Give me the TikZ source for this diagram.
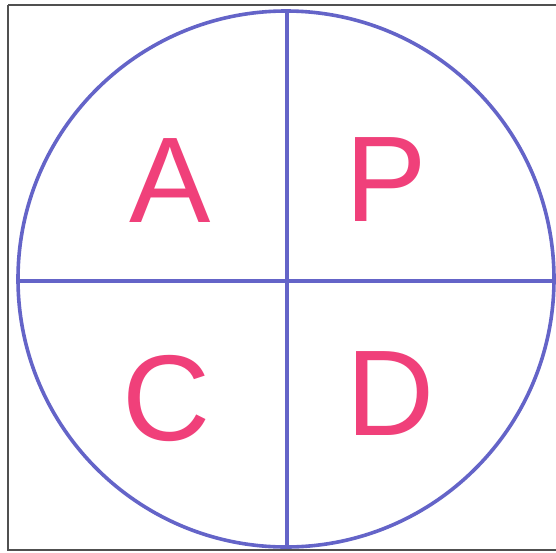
\documentclass[tikz,border=0pt]{standalone}
\usepackage{fontspec}
\setmainfont{Liberation Sans}
\definecolor{ringblue}{HTML}{6464C8}
\definecolor{letterpink}{HTML}{F0407A}
\definecolor{framegray}{HTML}{505050}
\tikzset{
  letter/.style={text=letterpink, inner sep=0pt, font=\fontsize{122}{122}\selectfont},
  ring/.style={draw=ringblue, line width=3.6pt},
  frame/.style={draw=framegray, line width=1.8pt}
}
\begin{document}
\begin{tikzpicture}[x=1pt,y=-1pt]
\useasboundingbox (0,0) rectangle (556,552);
\fill[white] (0,0) rectangle (556,552);
\draw[frame] (8,5) -- (560,5);
\draw[frame] (8,5) -- (8,550) -- (560,550);
\node[circle, ring, minimum size=536pt, inner sep=0pt] (c) at (286,279) {};
\coordinate (t) at (287,12);
\coordinate (b) at (287,546);
\coordinate (l) at (18,281);
\coordinate (r) at (554,281);
\draw[ring] (t) -- (b);
\draw[ring] (l) -- (r);
\node[letter] (A) at (170,181) {A};
\node[letter] (P) at (386,180) {P};
\node[letter] (C) at (167,398) {C};
\node[letter] (D) at (391,394) {D};
\end{tikzpicture}
\end{document}
